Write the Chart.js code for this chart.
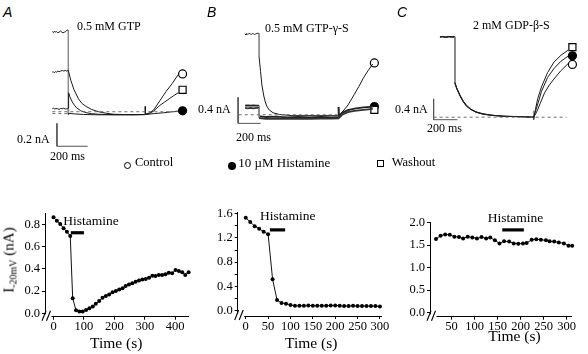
<!DOCTYPE html>
<html><head><meta charset="utf-8">
<script src="https://cdn.jsdelivr.net/npm/chart.js@4/dist/chart.umd.min.js"></script>
<style>
html,body{margin:0;padding:0;background:#fff;}
#fig{position:relative;width:588px;height:354px;overflow:hidden;background:#fff;font-family:'Liberation Serif','Times New Roman',serif;color:#000;}
canvas{position:absolute;}
.t{position:absolute;white-space:nowrap;line-height:1;}
.let{font-family:'Liberation Sans',Arial,sans-serif;font-style:italic;font-size:14px;}
.sym{position:absolute;box-sizing:border-box;}
</style></head><body>
<div id="fig">
<canvas id="tA" width="158" height="145" style="left:40px;top:15px"></canvas>
<canvas id="tB" width="192" height="145" style="left:198px;top:15px"></canvas>
<canvas id="tC" width="198" height="145" style="left:390px;top:15px"></canvas>
<canvas id="bA" width="200" height="159" style="left:0px;top:195px"></canvas>
<canvas id="bB" width="200" height="159" style="left:195px;top:195px"></canvas>
<canvas id="bC" width="198" height="159" style="left:390px;top:195px"></canvas>

<div class="t let" style="left:3px;top:5px">A</div>
<div class="t let" style="left:207px;top:5px">B</div>
<div class="t let" style="left:397px;top:5px">C</div>

<div class="t" style="left:77px;top:19.5px;font-size:12px">0.5 mM GTP</div>
<div class="t" style="left:265px;top:21.5px;font-size:12px">0.5 mM GTP-γ-S</div>
<div class="t" style="left:473px;top:18.5px;font-size:12px">2 mM GDP-β-S</div>

<div class="t" style="left:17px;top:132.5px;font-size:12px">0.2 nA</div>
<div class="t" style="left:50px;top:150px;font-size:12px">200 ms</div>
<div class="t" style="left:198px;top:103.3px;font-size:12px">0.4 nA</div>
<div class="t" style="left:236px;top:130.6px;font-size:12px">200 ms</div>
<div class="t" style="left:395px;top:103.3px;font-size:12px">0.4 nA</div>
<div class="t" style="left:427px;top:121.6px;font-size:12px">200 ms</div>

<div class="sym" style="left:123.5px;top:161.5px;width:7px;height:7px;border:1.2px solid #000;border-radius:50%"></div>
<div class="t" style="left:135px;top:156.2px;font-size:12.5px">Control</div>
<div class="sym" style="left:228.3px;top:161.7px;width:8px;height:8px;background:#000;border-radius:50%"></div>
<div class="t" style="left:238.3px;top:155.8px;font-size:13px">10 µM Histamine</div>
<div class="sym" style="left:376.5px;top:159.8px;width:7px;height:7px;border:1.2px solid #000"></div>
<div class="t" style="left:391.7px;top:156.2px;font-size:12.5px">Washout</div>

<div class="t" style="left:63.3px;top:213.7px;font-size:13.5px">Histamine</div>
<div class="t" style="left:260px;top:208.7px;font-size:13.5px">Histamine</div>
<div class="t" style="left:487.7px;top:211.4px;font-size:13.5px">Histamine</div>

<div class="t" style="left:90px;top:334.7px;font-size:15.5px">Time (s)</div>
<div class="t" style="left:285px;top:335.3px;font-size:15.5px">Time (s)</div>
<div class="t" style="left:488.3px;top:328px;font-size:15.5px">Time (s)</div>

<div class="t" style="left:10px;top:260px;font-size:15px;transform:translate(-50%,-50%) rotate(-90deg);">I<sub style="font-size:10px;vertical-align:-3px;">-20mV</sub> (nA)</div>
</div>
<script>
// ---------- bottom panels: time course data ----------
const A_T = [0,11,22,33,44,55,63,74,85,96,107,118,129,139,150,161,172,183,194,205,216,227,237,248,259,270,281,292,303,314,325,335,346,357,368,379,390,401,412,423,433,444];
const A_I = [0.865,0.834,0.805,0.766,0.735,0.696,0.135,0.027,0.015,0.015,0.03,0.045,0.06,0.085,0.11,0.14,0.155,0.17,0.19,0.2,0.215,0.225,0.245,0.26,0.27,0.285,0.295,0.305,0.31,0.321,0.339,0.336,0.345,0.345,0.351,0.366,0.36,0.39,0.381,0.369,0.345,0.369];
const B_T = [0,10,20,30,40,50,60,70,80,90,100,110,120,130,140,150,160,170,180,190,200,210,220,230,240,250,260,270,280,290,300];
const B_I = [1.53,1.46,1.39,1.35,1.30,1.26,0.52,0.18,0.13,0.12,0.10,0.085,0.085,0.085,0.09,0.085,0.085,0.085,0.085,0.09,0.09,0.085,0.08,0.08,0.085,0.08,0.08,0.08,0.08,0.08,0.075];
const C_T = [16,26,36,46,56,66,75,85,95,105,115,125,134,144,154,164,175,185,195,205,213,224,234,244,255,263,273,283,294,304,312];
const C_I = [1.64,1.71,1.74,1.73,1.69,1.68,1.65,1.69,1.67,1.65,1.68,1.65,1.67,1.61,1.54,1.59,1.58,1.54,1.53,1.54,1.55,1.62,1.63,1.62,1.61,1.59,1.58,1.56,1.54,1.49,1.49];
const HIST_A = [[57,0.726],[100,0.726]];
const HIST_B = [[54,1.33],[88,1.33]];
const HIST_C = [[160,1.84],[207,1.84]];
const XT_A = [0,100,200,300,400];
const XT_B = [0,50,100,150,200,250,300];
const XT_C = [50,100,150,200,250,300];
const YT_A = [0,0.2,0.4,0.6,0.8];
const YL_A = ['0.0','0.2','0.4','0.6','0.8'];
const YT_B = [0,0.2,0.4,0.6,0.8,1.0,1.2,1.4,1.6];
const YL_B = ['0.0','','0.4','','0.8','','1.2','','1.6'];
const YT_C = [0,0.5,1.0,1.5,2.0];
const YL_C = ['0.0','0.5','1.0','1.5','2.0'];

// ---------- top panels: current traces (t in ms, I in nA) ----------
const A_CTRL = [[-104,0.725],[-96,0.715],[-90,0.73],[-84,0.72],[-76,0.725],[-68,0.715],[-60,0.72],[-50,0.73],[-42,0.72],[-34,0.715],[-26,0.72],[-18,0.725],[-10,0.735],[-4,0.74],[0,0.73],[0,0.0],[2,0.19],[10,0.155],[26,0.11],[40,0.08],[56,0.056],[80,0.033],[116,0.016],[150,0.007],[196,0.002],[250,0.0],[300,-0.002],[400,-0.002],[500,0.0],[530,0.015],[556,0.04],[596,0.12],[636,0.2],[676,0.27],[716,0.35]];
const A_WASH = [[-104,0.37],[-98,0.375],[-92,0.365],[-84,0.375],[-76,0.37],[-68,0.38],[-60,0.375],[-50,0.38],[-40,0.385],[-30,0.38],[-20,0.385],[-10,0.38],[0,0.385],[16,0.30],[36,0.22],[66,0.136],[90,0.095],[116,0.07],[150,0.045],[196,0.024],[250,0.01],[294,0.002],[350,0.0],[420,-0.002],[500,0.0],[530,0.01],[556,0.03],[596,0.08],[626,0.108],[656,0.136],[686,0.165],[716,0.19]];
const A_HIST = [[-104,0.05],[-96,0.055],[-88,0.048],[-80,0.052],[-70,0.05],[-60,0.045],[-50,0.052],[-40,0.05],[-30,0.055],[-20,0.048],[-10,0.05],[0,0.05],[0,0.01],[40,0.005],[100,0.0],[200,-0.003],[300,-0.003],[400,-0.002],[500,-0.002],[500,0.07],[502,0.0],[560,0.008],[620,0.015],[680,0.024],[716,0.03]];
const A_MARK = {ctrl:[744,0.355], wash:[744,0.216], hist:[744,0.032]};
const A_ZERO = [[-104,0.024],[716,0.024]];
const A_ZERO2 = [[-104,0.008],[0,0.008]];
const A_BAR = [[-74,-0.078],[-74,-0.278],[126,-0.278]];

const B_CTRL = [[-125,1.25],[-117,1.235],[-110,1.255],[-102,1.24],[-94,1.25],[-86,1.26],[-78,1.245],[-70,1.24],[-60,1.255],[-50,1.25],[-40,1.24],[-30,1.25],[-20,1.255],[-10,1.26],[0,1.255],[0,0.9],[13,0.67],[25,0.46],[42,0.29],[55,0.2],[69,0.13],[90,0.075],[125,0.03],[180,0.005],[292,-0.014],[500,-0.014],[708,-0.014],[740,0.04],[792,0.15],[847,0.31],[890,0.44],[930,0.57],[970,0.68],[1013,0.785]];
const B_HIST = [[-125,0.14],[-100,0.145],[-75,0.14],[-50,0.145],[-25,0.14],[0,0.14],[0,-0.02],[60,-0.035],[150,-0.03],[250,-0.04],[350,-0.035],[450,-0.04],[550,-0.035],[650,-0.04],[708,-0.035],[708,0.12],[712,-0.02],[740,0.03],[790,0.07],[850,0.095],[930,0.115],[1013,0.125]];
const B_WASH = [[-125,0.105],[-100,0.1],[-75,0.105],[-50,0.1],[-25,0.105],[0,0.105],[0,-0.05],[60,-0.065],[150,-0.06],[250,-0.065],[350,-0.06],[450,-0.065],[550,-0.06],[650,-0.06],[708,-0.055],[740,0.0],[790,0.04],[850,0.06],[930,0.075],[1013,0.09]];
const B_MARK = {ctrl:[1027,0.80], wash:[1027,0.075], hist:[1027,0.127]};
const B_ZERO = [[-181,0],[708,0]];
const B_BAR = [[-187,0.268],[-187,-0.133],[13,-0.133]];

const C_CTRL = [[-123,1.62],[-100,1.625],[-75,1.615],[-50,1.625],[-25,1.62],[0,1.62],[0,0.7],[15,0.59],[43,0.44],[70,0.32],[95,0.24],[130,0.165],[172,0.11],[230,0.07],[300,0.042],[400,0.02],[555,0.01],[646,0],[670,0.1],[700,0.28],[735,0.49],[775,0.65],[812,0.77],[870,0.94],[928,1.08]];
const C_HIST = [[-123,1.615],[-100,1.62],[-75,1.61],[-50,1.62],[-25,1.615],[0,1.615],[0,0.69],[15,0.58],[43,0.43],[70,0.31],[95,0.23],[130,0.16],[172,0.105],[230,0.065],[300,0.04],[400,0.02],[555,0.01],[646,0],[665,0.15],[690,0.35],[710,0.52],[760,0.80],[812,0.98],[870,1.13],[928,1.23]];
const C_WASH = [[-123,1.625],[-100,1.63],[-75,1.62],[-50,1.63],[-25,1.625],[0,1.625],[0,0.68],[15,0.57],[43,0.42],[70,0.30],[95,0.22],[130,0.155],[172,0.1],[230,0.06],[300,0.038],[400,0.018],[555,0.008],[646,0],[646,0.13],[646,-0.05],[650,0],[660,0.15],[680,0.38],[710,0.61],[760,0.9],[812,1.11],[870,1.25],[928,1.35]];
const C_MARK = {ctrl:[964,1.065], wash:[964,1.415], hist:[964,1.24]};
const C_ZERO = [[-175,0],[915,0]];
const C_BAR = [[-175,0.37],[-175,-0.05],[20,-0.05]];

// ---------- helpers ----------
const FONT = "'Liberation Serif','Times New Roman',serif";
const xy = a => a.map(p => ({x:p[0], y:p[1]}));
const vert = c => (c.p0.parsed.x === c.p1.parsed.x ? '#8c8c8c' : undefined);

function trace(pts, w, col){
  return {data: xy(pts), showLine:true, pointRadius:0, borderColor: col||'#1a1a1a', borderWidth: w||1,
          segment:{borderColor: vert}, clip:false, tension:0};
}
function dashed(pts){
  return {data: xy(pts), showLine:true, pointRadius:0, borderColor:'#6e6e6e', borderWidth:1, borderDash:[3,3], clip:false};
}
function bar(pts){
  return {data: xy(pts), showLine:true, pointRadius:0, borderColor:'#555', borderWidth:1, clip:false};
}
function marker(p, style, filled, r){
  return {data: xy([p]), showLine:false, pointStyle:style, pointRadius:r, borderColor:'#000', borderWidth:1.2,
          pointBackgroundColor: filled ? '#000' : '#fff', pointBorderColor:'#000', pointBorderWidth:1.2, clip:false};
}
function topChart(id, sets, xr, yr){
  new Chart(document.getElementById(id), {
    type:'scatter',
    data:{datasets: sets},
    options:{responsive:false, animation:false, devicePixelRatio:1,
      layout:{padding:0},
      plugins:{legend:{display:false}, tooltip:{enabled:false}},
      scales:{x:{type:'linear', display:false, min:xr[0], max:xr[1]},
              y:{type:'linear', display:false, min:yr[0], max:yr[1]}}}
  });
}

topChart('tA', [
  dashed(A_ZERO), dashed(A_ZERO2),
  trace(A_HIST), trace(A_WASH), trace(A_CTRL),
  bar(A_BAR),
  marker(A_MARK.ctrl,'circle',false,4), marker(A_MARK.wash,'rect',false,5), marker(A_MARK.hist,'circle',true,4)
], [-144,804], [-0.344,0.816]);

topChart('tB', [
  dashed(B_ZERO),
  trace(B_WASH,1.8,'#333'), trace(B_HIST,1.8,'#222'), trace(B_CTRL),
  bar(B_BAR),
  marker(B_MARK.ctrl,'circle',false,4), marker(B_MARK.wash,'rect',false,5), marker(B_MARK.hist,'circle',true,4)
], [-489,1111], [-0.603,1.445]);

topChart('tC', [
  dashed(C_ZERO),
  trace(C_CTRL), trace(C_HIST), trace(C_WASH),
  bar(C_BAR),
  marker(C_MARK.wash,'rect',false,5), marker(C_MARK.hist,'circle',true,4), marker(C_MARK.ctrl,'circle',false,4)
], [-482,1041], [-0.738,1.937]);

const breakPlugin = {
  id:'axisBreak',
  afterDraw(chart){
    const ctx = chart.ctx, a = chart.chartArea;
    const L = a.left, B = a.bottom;
    ctx.save();
    ctx.fillStyle = '#fff';
    ctx.fillRect(L-1.5, B-2.5, 8, 4);
    ctx.strokeStyle = '#000'; ctx.lineWidth = 1.1;
    ctx.beginPath();
    ctx.moveTo(L-3, B+4); ctx.lineTo(L+1, B-6);
    ctx.moveTo(L+1.5, B+4); ctx.lineTo(L+5.5, B-6);
    ctx.stroke();
    ctx.restore();
  }
};

function bottomChart(id, T, I, hist, xr, yr, xt, yt, yl, lay){
  const pts = T.map((t,i) => ({x:t, y:I[i]}));
  new Chart(document.getElementById(id), {
    type:'scatter',
    data:{datasets:[
      {data: pts, showLine:true, borderColor:'#111', borderWidth:1, pointRadius:2, pointBackgroundColor:'#000',
       pointBorderWidth:0, clip:false, tension:0},
      {data: xy(hist), showLine:true, borderColor:'#000', borderWidth:3.2, pointRadius:0, clip:false}
    ]},
    options:{responsive:false, animation:false, devicePixelRatio:1,
      layout:{padding:{top:lay.top, right:lay.right, left:0, bottom:0}},
      plugins:{legend:{display:false}, tooltip:{enabled:false}},
      scales:{
        x:{type:'linear', min:xr[0], max:xr[1],
           afterFit: s => { s.height = lay.xh; },
           afterBuildTicks: s => { s.ticks = xt.map(v => ({value:v})); },
           border:{display:true, color:'#000', width:1},
           grid:{drawOnChartArea:false, drawTicks:true, tickLength:3, color:'#000'},
           ticks:{color:'#000', padding:0, autoSkip:false, maxRotation:0, font:{family:FONT, size:12.5},
                  callback: v => String(v)}},
        y:{type:'linear', min:yr[0], max:yr[1],
           afterFit: s => { s.width = lay.yw; },
           afterBuildTicks: s => { s.ticks = yt.map(v => ({value:v})); },
           border:{display:true, color:'#000', width:1},
           grid:{drawOnChartArea:false, drawTicks:true, tickLength:3, color:'#000'},
           ticks:{color:'#000', padding:2, autoSkip:false, font:{family:FONT, size:12.5},
                  callback: (v,i) => yl[i]}}
      }},
    plugins:[breakPlugin]
  });
}

bottomChart('bA', A_T, A_I, HIST_A, [-28,442], [-0.031,0.904], XT_A, YT_A, YL_A, {top:18, right:12, yw:45, xh:37.3});
bottomChart('bB', B_T, B_I, HIST_B, [-18,304], [-0.082,1.62], XT_B, YT_B, YL_B, {top:17.2, right:13.3, yw:42.7, xh:38});
bottomChart('bC', C_T, C_I, HIST_C, [3,311], [-0.089,2.0], XT_C, YT_C, YL_C, {top:27.7, right:16.3, yw:40, xh:37.3});
</script>
</body></html>
